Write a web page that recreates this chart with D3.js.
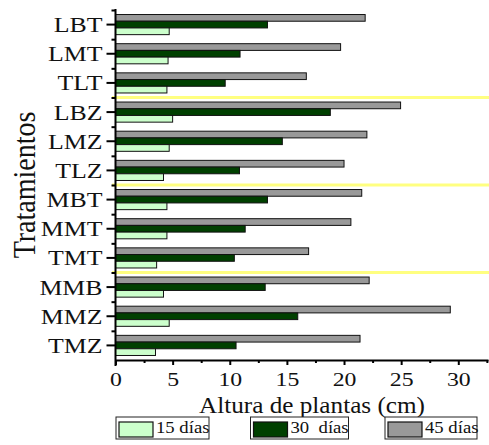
<!DOCTYPE html>
<html><head><meta charset="utf-8">
<script src="https://cdn.jsdelivr.net/npm/d3@7"></script>
<style>body{margin:0;background:#fff}svg{display:block}</style></head>
<body><svg id="c" width="489" height="445"></svg>
<script>
const categories = ["LBT","LMT","TLT","LBZ","LMZ","TLZ","MBT","MMT","TMT","MMB","MMZ","TMZ"];
const seriesNames = ["45 días","30  días","15 días"];
const seriesColors = ["#999999","#004000","#ccffcc"];
const d15 = [4.7,4.6,4.5,5.0,4.7,4.2,4.5,4.5,3.6,4.2,4.7,3.5];
const d30 = [13.3,10.9,9.6,18.8,14.6,10.85,13.3,11.35,10.4,13.1,15.95,10.55];
const d45 = [21.85,19.7,16.7,24.95,22.0,20.0,21.55,20.6,16.9,22.2,29.3,21.4];
const xTicks = [0,5,10,15,20,25,30];
const xMinorTicks = [2.5,7.5,12.5,17.5,22.5,27.5,32.5];
const groupBreaks = ["LBZ","MBT","MMB"];
const legendOrder = ["15 días","30  días","45 días"];

const FONT = "'Liberation Serif','Times New Roman',serif";
const svg = d3.select("#c");
const seriesData = [d45, d30, d15];

const x = d3.scaleLinear().domain([0, 32.6]).range([115.5, 488]);
const y = d3.scaleBand().domain(categories).range([10, 360]).paddingInner(0.31).paddingOuter(0.155);
const ys = d3.scaleBand().domain(seriesNames).range([0, y.bandwidth()]);
const yIdx = d3.scaleLinear().domain([0, categories.length]).range([10, 360]);

// yellow separators
const gap = (y.step() - y.bandwidth()) / 2;
svg.append("g").selectAll("line").data(groupBreaks).join("line")
  .attr("x1", 112).attr("x2", 489)
  .attr("y1", d => y(d) - gap).attr("y2", d => y(d) - gap)
  .attr("stroke", "#ffff80").attr("stroke-width", 3);

// bars
const rows = [];
categories.forEach((c, i) => seriesNames.forEach((s, j) => rows.push({c, s, v: seriesData[j][i], col: seriesColors[j]})));
svg.append("g").selectAll("rect").data(rows).join("rect")
  .attr("x", x(0)).attr("y", d => y(d.c) + ys(d.s))
  .attr("width", d => x(d.v) - x(0)).attr("height", ys.bandwidth())
  .attr("fill", d => d.col).attr("stroke", "#111").attr("stroke-width", 1);

// y axis
const yAx = svg.append("g").attr("transform", `translate(${x(0)},0)`)
  .call(d3.axisLeft(y).tickSize(9).tickSizeOuter(0).tickPadding(3));
yAx.select(".domain").attr("stroke-width", 2).attr("d", `M0,${yIdx(0)-1}V366`);
yAx.selectAll(".tick line").attr("stroke-width", 2);
yAx.selectAll(".tick text").attr("font-family", FONT).attr("font-size", 21).attr("fill", "#111")
  .attr("x", -13 / 1.23).attr("dy", "0.36em").attr("transform", "scale(1.23,1)");
const yMin = svg.append("g").attr("transform", `translate(${x(0)},0)`)
  .call(d3.axisLeft(yIdx).tickValues(d3.range(0, categories.length)).tickSize(4).tickFormat(""));
yMin.select(".domain").remove();
yMin.selectAll(".tick line").attr("stroke-width", 2);

// x axis
const xAx = svg.append("g").attr("transform", "translate(0,360)")
  .call(d3.axisBottom(x).tickValues(xTicks).tickSize(5).tickSizeOuter(0).tickPadding(8));
xAx.select(".domain").attr("stroke-width", 2);
xAx.selectAll(".tick line").attr("stroke-width", 2);
xAx.selectAll(".tick text").attr("font-family", FONT).attr("font-size", 19).attr("fill", "#111")
  .attr("transform", "scale(1.25,1)");
const xMin = svg.append("g").attr("transform", "translate(0,360)")
  .call(d3.axisBottom(x).tickValues(xMinorTicks).tickSize(3).tickFormat(""));
xMin.select(".domain").remove();
xMin.selectAll(".tick line").attr("stroke-width", 2);

// titles
svg.append("text").attr("transform", "translate(312,413) scale(1.05,1)")
  .attr("text-anchor", "middle").attr("font-family", FONT).attr("font-size", 24).attr("fill", "#111")
  .text("Altura de plantas (cm)");
svg.append("text").attr("transform", "translate(35,185) scale(1.16,1) rotate(-90)")
  .attr("text-anchor", "middle").attr("font-family", FONT).attr("font-size", 28).attr("fill", "#111")
  .text("Tratamientos");

// legend
const legX = d3.scalePoint().domain(legendOrder).range([116, 385]);
const legW = {"15 días": 93, "30  días": 98, "45 días": 92};
const legCol = {"15 días": "#ccffcc", "30  días": "#004000", "45 días": "#999999"};
const lg = svg.append("g").selectAll("g").data(legendOrder).join("g")
  .attr("transform", d => `translate(${legX(d)},417)`);
lg.append("rect").attr("width", d => legW[d]).attr("height", 22).attr("fill", "#fff").attr("stroke", "#222").attr("stroke-width", 1);
lg.append("rect").attr("x", 3).attr("y", 5).attr("width", 34).attr("height", 15)
  .attr("fill", d => legCol[d]).attr("stroke", "#111").attr("stroke-width", 1.2);
lg.append("text").attr("transform", "translate(40,16) scale(1.1,1)")
  .attr("font-family", FONT).attr("font-size", 17).attr("fill", "#111")
  .style("white-space", "pre").attr("xml:space", "preserve")
  .text(d => d);
</script></body></html>
